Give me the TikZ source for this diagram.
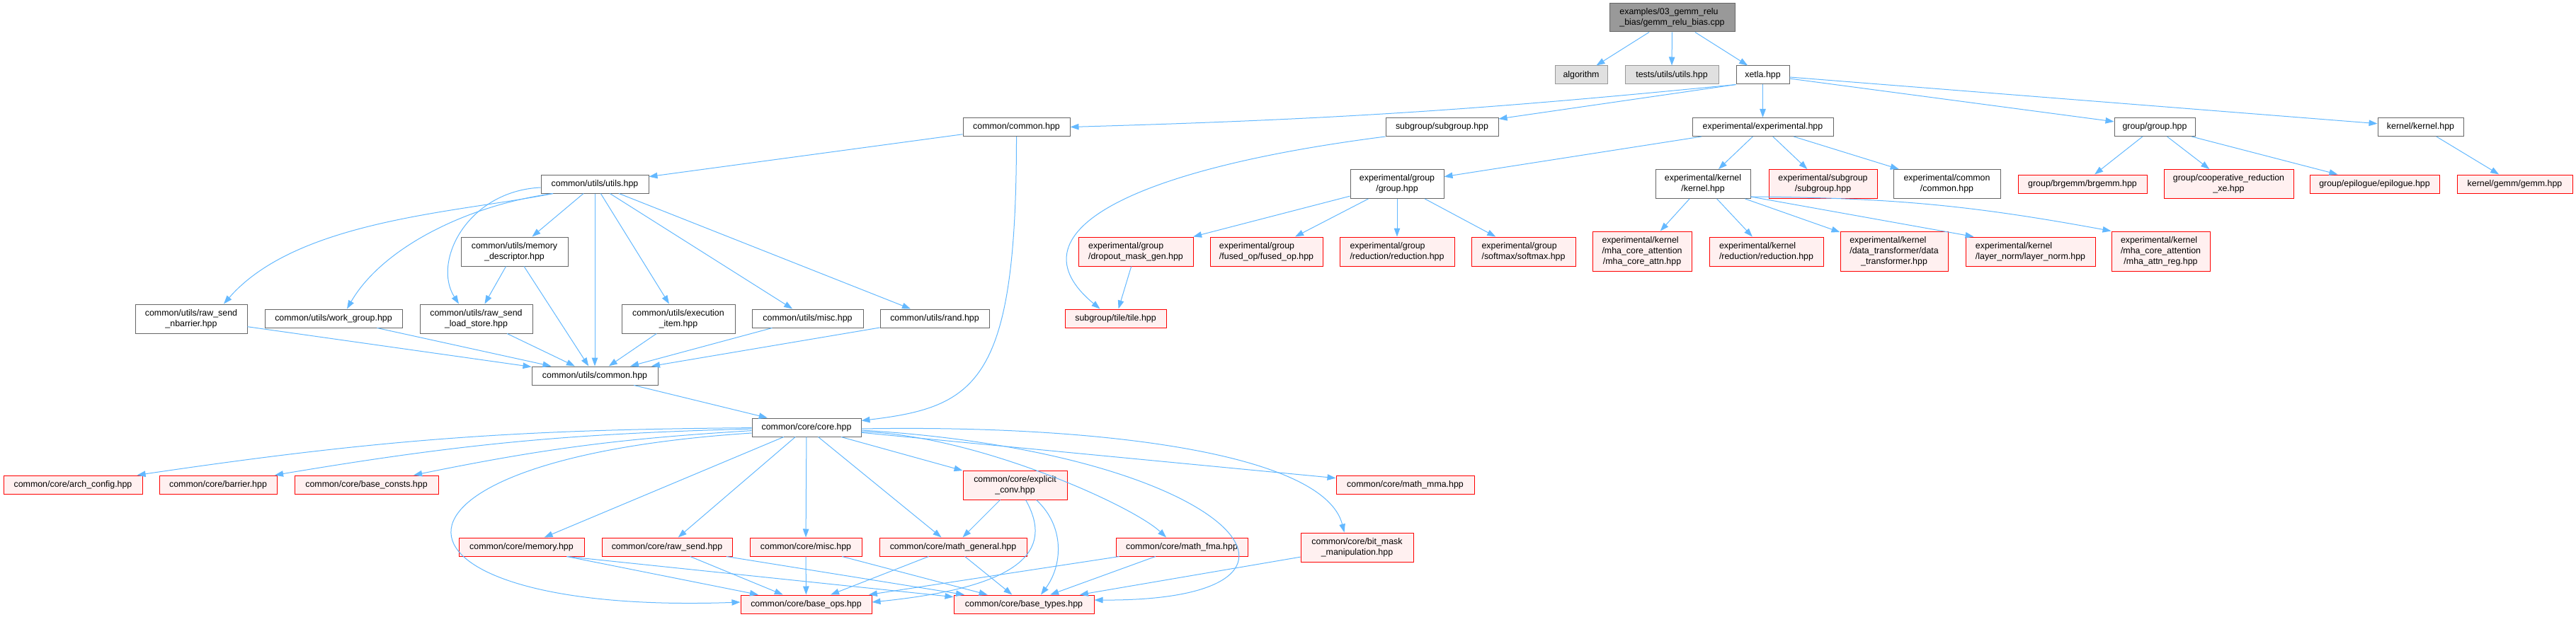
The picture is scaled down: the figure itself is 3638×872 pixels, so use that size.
\documentclass[tikz,border=0pt]{standalone}
\usepackage{fontspec}
\setmainfont{Liberation Sans}
\usetikzlibrary{arrows.meta}

\definecolor{edgeblue}{HTML}{63B8FF}
\definecolor{greyforty}{HTML}{666666}
\definecolor{greysixty}{HTML}{999999}
\definecolor{extfill}{HTML}{E0E0E0}
\definecolor{undocfill}{HTML}{FFF0F0}

% first lines flush left, last line centred (as dot does it)
\newcommand\twolines[2]{\begin{tabular}{@{}l@{}}#1\\\multicolumn{1}{@{}c@{}}{#2}\end{tabular}}
\newcommand\threelines[3]{\begin{tabular}{@{}l@{}}#1\\#2\\\multicolumn{1}{@{}c@{}}{#3}\end{tabular}}

\tikzset{
  hfile/.style={draw, line width=1pt, inner sep=0pt, font=\fontsize{12.4}{15}\selectfont},
  hdr/.style={hfile, draw=greyforty, fill=greysixty},
  ext/.style={hfile, draw=greysixty, fill=extfill},
  doc/.style={hfile, draw=greyforty, fill=white},
  undoc/.style={hfile, draw=red, fill=undocfill},
  wh/.style 2 args={minimum width=#1pt, minimum height=#2pt},
  inc/.style={draw=edgeblue, line width=1pt, -{Triangle[length=12pt,width=8.5pt]}}
}

\begin{document}
\begin{tikzpicture}[x=1pt,y=1pt]
\useasboundingbox (0,0) rectangle (3638,-872);

% top
\node[hdr,wh={177}{40}] (root) at (2361.5,-25) {\twolines{examples/03\_gemm\_relu}{\_bias/gemm\_relu\_bias.cpp}};
\node[ext,wh={74}{26}] (alg) at (2233,-106) {algorithm};
\node[ext,wh={132}{26}] (tests) at (2361,-106) {tests/utils/utils.hpp};
\node[doc,wh={75}{26}] (xetla) at (2489.5,-106) {xetla.hpp};

\node[doc,wh={151}{26}] (common) at (1435.5,-179.5) {common/common.hpp};
\node[doc,wh={159}{26}] (subgroup) at (2036.5,-179.5) {subgroup/subgroup.hpp};
\node[doc,wh={199}{26}] (expt) at (2489.5,-179.5) {experimental/experimental.hpp};
\node[doc,wh={114}{26}] (group) at (3043,-179.5) {group/group.hpp};
\node[doc,wh={121}{26}] (kernel) at (3418.5,-179.5) {kernel/kernel.hpp};

\node[doc,wh={152}{26}] (utils) at (840,-260) {common/utils/utils.hpp};
\node[doc,wh={132}{41}] (exgroup) at (1973,-260) {\twolines{experimental/group}{/group.hpp}};
\node[doc,wh={134}{41}] (exkernel) at (2405,-260) {\twolines{experimental/kernel}{/kernel.hpp}};
\node[undoc,wh={153}{41}] (exsub) at (2574.5,-260) {\twolines{experimental/subgroup}{/subgroup.hpp}};
\node[doc,wh={151}{41}] (excommon) at (2749.5,-260) {\twolines{experimental/common}{/common.hpp}};
\node[undoc,wh={182}{26}] (brgemm) at (2941,-260) {group/brgemm/brgemm.hpp};
\node[undoc,wh={183}{41}] (coop) at (3147.5,-260) {\twolines{group/cooperative\_reduction}{\_xe.hpp}};
\node[undoc,wh={183}{26}] (epilogue) at (3353.5,-260) {group/epilogue/epilogue.hpp};
\node[undoc,wh={163}{26}] (gemm) at (3551.5,-260) {kernel/gemm/gemm.hpp};

% second band
\node[doc,wh={151}{41}] (memdesc) at (726.5,-355.5) {\twolines{common/utils/memory}{\_descriptor.hpp}};
\node[undoc,wh={162}{41}] (dropout) at (1604,-355.5) {\twolines{experimental/group}{/dropout\_mask\_gen.hpp}};
\node[undoc,wh={159}{41}] (fused) at (1788.5,-355.5) {\twolines{experimental/group}{/fused\_op/fused\_op.hpp}};
\node[undoc,wh={162}{41}] (exred) at (1973,-355.5) {\twolines{experimental/group}{/reduction/reduction.hpp}};
\node[undoc,wh={147}{41}] (softmax) at (2151.5,-355.5) {\twolines{experimental/group}{/softmax/softmax.hpp}};
\node[undoc,wh={140}{56}] (mhacore) at (2319,-355) {\threelines{experimental/kernel}{/mha\_core\_attention}{/mha\_core\_attn.hpp}};
\node[undoc,wh={161}{41}] (kred) at (2494.5,-355.5) {\twolines{experimental/kernel}{/reduction/reduction.hpp}};
\node[undoc,wh={152}{56}] (dtrans) at (2675,-355) {\threelines{experimental/kernel}{/data\_transformer/data}{\_transformer.hpp}};
\node[undoc,wh={183}{41}] (lnorm) at (2867.5,-355.5) {\twolines{experimental/kernel}{/layer\_norm/layer\_norm.hpp}};
\node[undoc,wh={139}{56}] (mhareg) at (3051.5,-355) {\threelines{experimental/kernel}{/mha\_core\_attention}{/mha\_attn\_reg.hpp}};

\node[doc,wh={158}{41}] (nbarrier) at (270,-450.5) {\twolines{common/utils/raw\_send}{\_nbarrier.hpp}};
\node[doc,wh={194}{26}] (workgroup) at (471,-450) {common/utils/work\_group.hpp};
\node[doc,wh={159}{41}] (loadstore) at (672.5,-450.5) {\twolines{common/utils/raw\_send}{\_load\_store.hpp}};
\node[doc,wh={160}{41}] (execitem) at (958,-450.5) {\twolines{common/utils/execution}{\_item.hpp}};
\node[doc,wh={157}{26}] (umisc) at (1140.5,-450) {common/utils/misc.hpp};
\node[doc,wh={154}{26}] (rand) at (1320,-450) {common/utils/rand.hpp};
\node[undoc,wh={143}{26}] (tile) at (1575.5,-450) {subgroup/tile/tile.hpp};

\node[doc,wh={178}{26}] (ucommon) at (840,-531) {common/utils/common.hpp};
\node[doc,wh={154}{26}] (core) at (1139,-604) {common/core/core.hpp};

% core band
\node[undoc,wh={196}{26}] (arch) at (103,-685) {common/core/arch\_config.hpp};
\node[undoc,wh={166}{26}] (barrier) at (308,-685) {common/core/barrier.hpp};
\node[undoc,wh={203}{26}] (bconsts) at (517.5,-685) {common/core/base\_consts.hpp};
\node[undoc,wh={147}{41}] (exconv) at (1433.5,-685.5) {\twolines{common/core/explicit}{\_conv.hpp}};
\node[undoc,wh={195}{26}] (mma) at (1984.5,-685) {common/core/math\_mma.hpp};

\node[undoc,wh={177}{26}] (memory) at (736.5,-773) {common/core/memory.hpp};
\node[undoc,wh={184}{26}] (rawsend) at (942,-773) {common/core/raw\_send.hpp};
\node[undoc,wh={158}{26}] (cmisc) at (1138,-773) {common/core/misc.hpp};
\node[undoc,wh={208}{26}] (mgen) at (1346,-773) {common/core/math\_general.hpp};
\node[undoc,wh={186}{26}] (fma) at (1669,-773) {common/core/math\_fma.hpp};
\node[undoc,wh={159}{41}] (bitmask) at (1916.5,-773.5) {\twolines{common/core/bit\_mask}{\_manipulation.hpp}};

\node[undoc,wh={185}{26}] (bops) at (1138.5,-854) {common/core/base\_ops.hpp};
\node[undoc,wh={198}{26}] (btypes) at (1446,-854) {common/core/base\_types.hpp};

% straight includes
\foreach \a/\b in {root/alg, root/tests, root/xetla, xetla/expt, xetla/group, xetla/kernel,
  common/utils, expt/exgroup, expt/exkernel, expt/exsub, expt/excommon,
  group/brgemm, group/coop, group/epilogue, kernel/gemm,
  exgroup/dropout, exgroup/fused, exgroup/exred, exgroup/softmax, dropout/tile,
  exkernel/mhacore, exkernel/kred, exkernel/dtrans,
  utils/memdesc, utils/ucommon, utils/execitem, utils/umisc, utils/rand,
  memdesc/loadstore, memdesc/ucommon, nbarrier/ucommon, workgroup/ucommon,
  loadstore/ucommon, execitem/ucommon, umisc/ucommon, rand/ucommon, ucommon/core,
  core/memory, core/rawsend, core/cmisc, core/mgen, core/exconv, core/mma, exconv/mgen,
  rawsend/bops, rawsend/btypes, cmisc/bops, cmisc/btypes, mgen/bops, mgen/btypes,
  fma/bops, fma/btypes, bitmask/btypes}
  \draw[inc] (\a) -- (\b);

% bent ones
\draw[inc] (xetla.south west) to[bend left=2] (common.east);
\draw[inc] (xetla.south west) -- (subgroup);
\draw[inc] (common.south) .. controls (1435.5,-540) and (1380,-575) .. ([yshift=-4pt]core.north east);
\draw[inc] (subgroup.south west) .. controls (1590,-240) and (1425,-330) .. ([xshift=-22pt]tile.north);
\draw[inc] ([yshift=3pt]exkernel.south east) -- ([xshift=-80pt]lnorm.north);
\draw[inc] ([yshift=3pt]exkernel.south east) to[bend left=5] (mhareg.north west);
\draw[inc] ([xshift=-59pt]utils.south) .. controls (650,-300) and (420,-310) .. ([xshift=46pt]nbarrier.north);
\draw[inc] ([xshift=-59pt]utils.south) .. controls (660,-290) and (540,-350) .. ([xshift=19pt]workgroup.north);
\draw[inc] ([yshift=-5pt]utils.west) .. controls (660,-270) and (610,-370) .. ([xshift=-24.5pt]loadstore.north);
\foreach \t in {arch, barrier, bconsts}
  \draw[inc] (core) to[bend right=4] (\t);
\draw[inc] ([yshift=-6pt]core.east) .. controls (1380,-615) and (1600,-715) .. ([xshift=-22pt]fma.north);
\draw[inc] ([yshift=-2pt]core.east) .. controls (1550,-600) and (1870,-640) .. ([xshift=-18pt]bitmask.north);
\draw[inc] ([yshift=-4pt]core.east) .. controls (1750,-640) and (1920,-850) .. ([yshift=6pt]btypes.east);
\draw[inc] ([yshift=-8pt]core.west) .. controls (480,-650) and (520,-870) .. ([yshift=3pt]bops.west);
\draw[inc] ([xshift=15pt]exconv.south) .. controls (1490,-780) and (1440,-830) .. ([yshift=3pt]bops.east);
\draw[inc] ([xshift=30pt]exconv.south) .. controls (1505,-745) and (1500,-800) .. ([xshift=24pt]btypes.north);
\draw[inc] ([xshift=64pt]memory.south) -- (bops);
\draw[inc] ([xshift=64pt]memory.south) -- (btypes);
\end{tikzpicture}
\end{document}
